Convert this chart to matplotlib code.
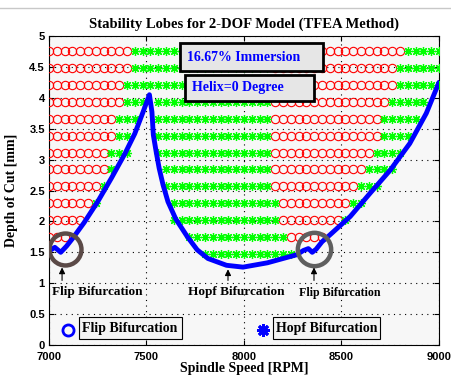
import matplotlib.pyplot as plt
import numpy as np
from matplotlib.lines import Line2D
from matplotlib.patches import Rectangle

serif = 'Liberation Serif'
sans = 'Liberation Sans'

# stability boundary: spindle speed [rpm] vs. limiting depth of cut [mm]
lobe_rpm = [7000, 7030, 7060, 7090, 7120, 7180, 7250, 7320, 7390, 7440, 7480, 7515,
            7528, 7535, 7550, 7565, 7585, 7610, 7650, 7710, 7760, 7815, 7910, 7995,
            8120, 8270, 8305, 8330, 8350, 8370, 8400, 8440, 8545, 8645, 8750, 8850,
            8935, 9000]
lobe_depth = [1.52, 1.58, 1.50, 1.60, 1.72, 1.98, 2.32, 2.70, 3.10, 3.42, 3.75, 4.05,
              3.77, 3.40, 3.12, 2.86, 2.59, 2.32, 2.04, 1.75, 1.54, 1.40, 1.29, 1.26,
              1.33, 1.46, 1.53, 1.56, 1.50, 1.55, 1.67, 1.78, 2.08, 2.45, 2.83, 3.26,
              3.75, 4.25]

# unstable grid points (40 rpm steps), grouped per depth row as (first rpm, last rpm)
rpm_step = 40
depth_rows = [1.47, 1.74, 2.02, 2.29, 2.57, 2.84, 3.11, 3.39, 3.66, 3.94, 4.21, 4.48, 4.76]
flip_spans = [
    [],
    [(7000, 7080), (8240, 8400)],
    [(7000, 7160), (8200, 8480)],
    [(7000, 7200), (8200, 8520)],
    [(7000, 7240), (8160, 8560)],
    [(7000, 7280), (8160, 8600)],
    [(7000, 7280), (8160, 8640)],
    [(7000, 7320), (8160, 8680)],
    [(7000, 7320), (8160, 8680)],
    [(7000, 7360), (8160, 8720)],
    [(7000, 7360), (8160, 8760)],
    [(7000, 7400), (8160, 8760)],
    [(7000, 7400), (8160, 8800)],
]
hopf_spans = [
    [(7800, 8240)],
    [(7720, 8200)],
    [(7640, 8160), (8520, 8520)],
    [(7240, 7240), (7640, 8160), (8560, 8600)],
    [(7280, 7280), (7600, 8120), (8600, 8680)],
    [(7320, 7320), (7600, 8120), (8640, 8760)],
    [(7320, 7400), (7560, 8120), (8680, 8800)],
    [(7360, 7400), (7560, 8120), (8720, 8840)],
    [(7360, 7440), (7560, 8120), (8720, 8880)],
    [(7400, 7480), (7560, 8120), (8760, 8920)],
    [(7400, 8120), (8800, 9000)],
    [(7440, 8120), (8800, 9000)],
    [(7440, 8120), (8840, 9000)],
]


def expand(spans):
    xs, ys = [], []
    for d, row in zip(depth_rows, spans):
        for a, b in row:
            pts = np.arange(a, b + 1, rpm_step)
            xs.extend(pts)
            ys.extend([d] * len(pts))
    return xs, ys


flip_x, flip_y = expand(flip_spans)
hopf_x, hopf_y = expand(hopf_spans)

fig = plt.figure(figsize=(4.52, 3.79), dpi=100)
ax = fig.add_axes([0.1084, 0.0897, 0.8628, 0.8153])
ax.set_facecolor('#f7f7f7')

fig.add_artist(Line2D([0, 1], [0.980, 0.980], color='#c8c8c8', lw=1.0))

asterisk = (8, 2, 0)
ax.plot(flip_x, flip_y, 'o', ms=6, mfc='none', mec='#ff0000', mew=0.8, zorder=3)
ax.plot(hopf_x, hopf_y, ls='none', marker=asterisk, ms=6.5, mec='#00ff00', mew=0.9, zorder=3)
ax.plot(lobe_rpm, lobe_depth, color='#0000ff', lw=3.5, solid_capstyle='round', zorder=4)

# bifurcation highlights
ax.plot([7084], [1.56], 'o', ms=23, mfc='none', mec='#5b4a47', mew=3.2, zorder=5)
ax.plot([8359], [1.55], 'o', ms=24, mfc='none', mec='#5f5f5f', mew=3.2, zorder=5)

arrow = dict(arrowstyle='-|>', color='k', lw=0.8, mutation_scale=9)
for x0, tip in [(7067, 1.30), (7918, 1.27), (8359, 1.30)]:
    ax.annotate('', xy=(x0, tip), xytext=(x0, 1.0), arrowprops=arrow, zorder=6)

ax.text(7247, 0.86, 'Flip Bifurcation', family=serif, weight='bold', size=9.5,
        ha='center', va='center')
ax.text(7959, 0.86, 'Hopf Bifurcation', family=serif, weight='bold', size=9.5,
        ha='center', va='center')
ax.text(8492, 0.84, 'Flip Bifurcation', family=serif, weight='bold', size=8.6,
        ha='center', va='center')

# info boxes
for (x0, y0, x1, y1), txt, tx, ty in [
        ((0.336, 0.887, 0.703, 0.977), '16.67% Immersion', 0.354, 0.932),
        ((0.349, 0.790, 0.679, 0.874), 'Helix=0 Degree', 0.367, 0.832)]:
    ax.add_patch(Rectangle((x0, y0), x1 - x0, y1 - y0, transform=ax.transAxes,
                           fc='#e6e6e6', ec='k', lw=2.0, zorder=7))
    ax.text(tx, ty, txt, transform=ax.transAxes, family=serif, weight='bold',
            size=10, color='#0000ff', ha='left', va='center', zorder=8)

# symbol key
for (x0, x1), txt, tx in [((0.077, 0.341), 'Flip Bifurcation', 0.085),
                          ((0.574, 0.849), 'Hopf Bifurcation', 0.582)]:
    ax.add_patch(Rectangle((x0, 0.019), x1 - x0, 0.072, transform=ax.transAxes,
                           fc='#f4f4f4', ec='k', lw=0.8, zorder=7))
    ax.text(tx, 0.055, txt, transform=ax.transAxes, family=serif, weight='bold',
            size=10, ha='left', va='center', zorder=8)
ax.plot([0.049], [0.049], 'o', transform=ax.transAxes, ms=8, mfc='none',
        mec='#0000ff', mew=2.0, zorder=8, clip_on=False)
ax.plot([0.549], [0.049], ls='none', marker=asterisk, transform=ax.transAxes, ms=9,
        mec='#0000ff', mew=2.0, zorder=8, clip_on=False)

ax.set_xlim(7000, 9000)
ax.set_ylim(0, 5)
ax.set_xticks([7000, 7500, 8000, 8500, 9000])
ax.set_yticks(np.arange(0, 5.01, 0.5))
ax.set_yticklabels(['0', '0.5', '1', '1.5', '2', '2.5', '3', '3.5', '4', '4.5', '5'])
ax.grid(True, color='k', lw=0.8, linestyle=(0, (1, 4)))
ax.set_axisbelow(True)
ax.tick_params(direction='in', top=True, right=True, length=3.5, width=0.8)
ax.tick_params(axis='x', pad=5)
ax.tick_params(axis='y', pad=3)
for lab in ax.get_xticklabels() + ax.get_yticklabels():
    lab.set_family(sans)
    lab.set_weight('bold')
    lab.set_size(8)
for s in ax.spines.values():
    s.set_linewidth(0.8)

ax.set_xlabel('Spindle Speed [RPM]', family=serif, weight='bold', size=10)
ax.set_ylabel('Depth of Cut [mm]', family=serif, weight='bold', size=10)
ax.xaxis.set_label_coords(0.5, -0.055)
ax.yaxis.set_label_coords(-0.08, 0.5)
ax.text(0.5, 1.039, 'Stability Lobes for 2-DOF Model (TFEA Method)', transform=ax.transAxes,
        family=serif, weight='bold', size=10.5, ha='center', va='center')

fig.savefig('out.png', dpi=100)
